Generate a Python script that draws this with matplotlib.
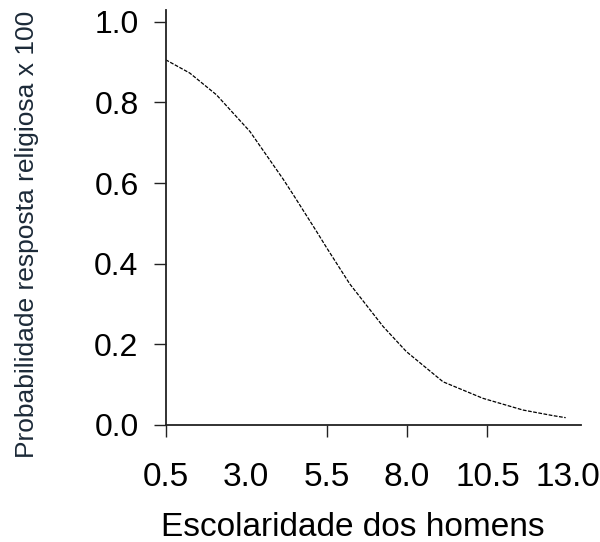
import matplotlib
matplotlib.use("Agg")
import matplotlib.pyplot as plt

# ── Data ──
escolaridade = [0.5, 1.25, 2.08, 3.12, 4.15, 4.46, 5.19, 5.5, 6.22, 7.26,
                7.98, 9.12, 10.36, 11.6, 12.54, 12.93]
prob_religiosa = [0.906, 0.873, 0.819, 0.728, 0.610, 0.572, 0.480, 0.440,
                  0.350, 0.244, 0.182, 0.107, 0.066, 0.037, 0.023, 0.018]

x_ticks = [0.5, 3.0, 5.5, 8.0, 10.5, 13.0]
x_ticklabels = ["0.5", "3.0", "5.5", "8.0", "10.5", "13.0"]
y_ticks = [0.0, 0.2, 0.4, 0.6, 0.8, 1.0]
y_ticklabels = ["0.0", "0.2", "0.4", "0.6", "0.8", "1.0"]

plt.rcParams["font.family"] = ["Liberation Sans", "DejaVu Sans"]

fig = plt.figure(figsize=(6.0, 5.42), dpi=100)
ax = fig.add_axes([0.276, 0.216, 0.692, 0.766])

ax.plot(escolaridade, prob_religiosa, color="black", linewidth=0.9,
        linestyle=(0, (3, 1.2)))

ax.set_xlim(0.5, 13.4)
ax.set_ylim(0.0, 1.03)

ax.spines["top"].set_visible(False)
ax.spines["right"].set_visible(False)
for s in ("left", "bottom"):
    ax.spines[s].set_linewidth(1.3)
    ax.spines[s].set_color("#222222")

ax.set_xticks(x_ticks)
ax.set_xticklabels(x_ticklabels)
ax.set_yticks(y_ticks)
ax.set_yticklabels(y_ticklabels)
ax.tick_params(axis="both", direction="out", length=8.5, width=1.0,
               colors="#222222", labelcolor="black")
ax.tick_params(axis="x", pad=18, labelsize=24)
ax.tick_params(axis="y", pad=11, labelsize=23)

# the reference shows no tick marks at 3.0 and 13.0
for t in ax.xaxis.get_major_ticks():
    if t.get_loc() in (3.0, 13.0):
        t.tick1line.set_visible(False)

ax.set_xlabel("Escolaridade dos homens", fontsize=24, color="black")
ax.xaxis.set_label_coords(0.451, -0.246)
ax.xaxis.label.set_va("center")

ax.set_ylabel("Probabilidade resposta religiosa x 100", fontsize=19,
              color="#1c2a38")
ax.yaxis.set_label_coords(-0.334, 0.458)
ax.yaxis.label.set_va("center")

fig.savefig("out.png", dpi=100, facecolor="white")
